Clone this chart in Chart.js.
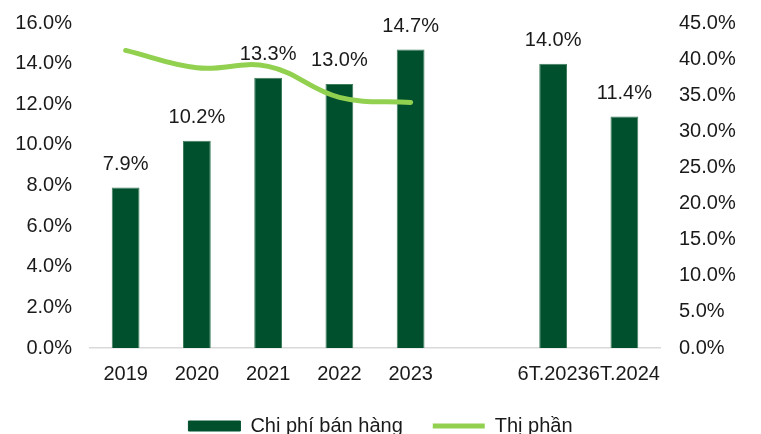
<!DOCTYPE html>
<html>
<head>
<meta charset="utf-8">
<script src="https://cdn.jsdelivr.net/npm/chart.js@4"></script>
<style>
  html, body { margin: 0; padding: 0; background: #fff; }
  #wrap { width: 761px; height: 434px; }
</style>
</head>
<body>
<div id="wrap"><canvas id="chiPhiChart" width="761" height="434"></canvas></div>
<script>
// Du lieu
const categories = ["2019", "2020", "2021", "2022", "2023", "", "6T.2023", "6T.2024"];
const chiPhiBanHang = [7.9, 10.2, 13.3, 13.0, 14.7, null, 14.0, 11.4]; // % truc trai
const thiPhan = [41.2, 38.8, 39.0, 34.7, 34.0, null, null, null];     // % truc phai
const leftTicks = [0, 2, 4, 6, 8, 10, 12, 14, 16];
const rightTicks = [0, 5, 10, 15, 20, 25, 30, 35, 40, 45];

const FONT = "'Liberation Sans', Arial, sans-serif";
const barColor = "#00502E";
const lineColor = "#92D050";

// nhan gia tri tren cot
const barLabels = {
    id: "barLabels",
    afterDatasetsDraw(chart) {
        const ctx = chart.ctx;
        const meta = chart.getDatasetMeta(0);
        ctx.save();
        ctx.font = "20px " + FONT;
        ctx.fillStyle = "#1a1a1a";
        ctx.textAlign = "center";
        ctx.textBaseline = "middle";
        meta.data.forEach((bar, i) => {
            const v = chiPhiBanHang[i];
            if (v == null) return;
            ctx.fillText(v.toFixed(1) + "%", bar.x, bar.y - 23);
        });
        ctx.restore();
    }
};

const data = {
    labels: categories,
    datasets: [
        {
            type: "bar",
            label: "Chi phí bán hàng",
            data: chiPhiBanHang,
            backgroundColor: barColor,
            borderColor: "#3F7E5C",
            borderWidth: 1,
            barPercentage: 0.39,
            categoryPercentage: 1,
            yAxisID: "y",
            order: 2,
        },
        {
            type: "line",
            label: "Thị phần",
            data: thiPhan,
            borderColor: lineColor,
            borderWidth: 5,
            borderCapStyle: "round",
            tension: 0.4,
            pointRadius: 0,
            fill: false,
            spanGaps: false,
            yAxisID: "y1",
            order: 1,
        },
    ],
};

// bo padding tu dong cua truc doc
function fitVertical(width) {
    return axis => {
        axis.width = width;
        axis.paddingTop = 0;
        axis.paddingBottom = 0;
    };
}

const config = {
    data: data,
    plugins: [barLabels],
    options: {
        responsive: false,
        animation: false,
        layout: { padding: { top: 23, bottom: -12 } },
        plugins: {
            tooltip: { enabled: false },
            legend: {
                position: "bottom",
                labels: {
                    font: { family: FONT, size: 20 },
                    color: "#1a1a1a",
                    usePointStyle: true,
                    pointStyleWidth: 52,
                    boxHeight: 10,
                    padding: 30,
                    generateLabels(chart) {
                        return [
                            { text: "Chi phí bán hàng", pointStyle: "rect", fillStyle: barColor, strokeStyle: barColor, lineWidth: 1, datasetIndex: 0, fontColor: "#1a1a1a" },
                            { text: "Thị phần", pointStyle: "line", fillStyle: lineColor, strokeStyle: lineColor, lineWidth: 5, datasetIndex: 1, fontColor: "#1a1a1a" },
                        ];
                    },
                },
            },
        },
        scales: {
            x: {
                clip: false,
                afterFit(axis) { axis.height = 38; },
                grid: { display: false, drawTicks: false },
                border: { display: true, color: "#d9d9d9", width: 1.5 },
                ticks: {
                    autoSkip: false,
                    maxRotation: 0,
                    padding: 14,
                    color: "#1a1a1a",
                    font: { family: FONT, size: 20 },
                },
            },
            y: {
                position: "left",
                min: 0,
                max: 16,
                clip: false,
                afterBuildTicks(axis) { axis.ticks = leftTicks.map(v => ({ value: v })); },
                afterFit: fitVertical(90),
                grid: { display: false, drawTicks: false },
                border: { display: false },
                ticks: {
                    padding: 18,
                    color: "#1a1a1a",
                    font: { family: FONT, size: 20 },
                    callback: v => v.toFixed(1) + "%",
                },
            },
            y1: {
                position: "right",
                min: 0,
                max: 45,
                clip: false,
                afterBuildTicks(axis) { axis.ticks = rightTicks.map(v => ({ value: v })); },
                afterFit: fitVertical(101),
                grid: { display: false, drawTicks: false },
                border: { display: false },
                ticks: {
                    padding: 19,
                    color: "#1a1a1a",
                    font: { family: FONT, size: 20 },
                    callback: v => v.toFixed(1) + "%",
                },
            },
        },
    },
};

new Chart(document.getElementById("chiPhiChart").getContext("2d"), config);
</script>
</body>
</html>
